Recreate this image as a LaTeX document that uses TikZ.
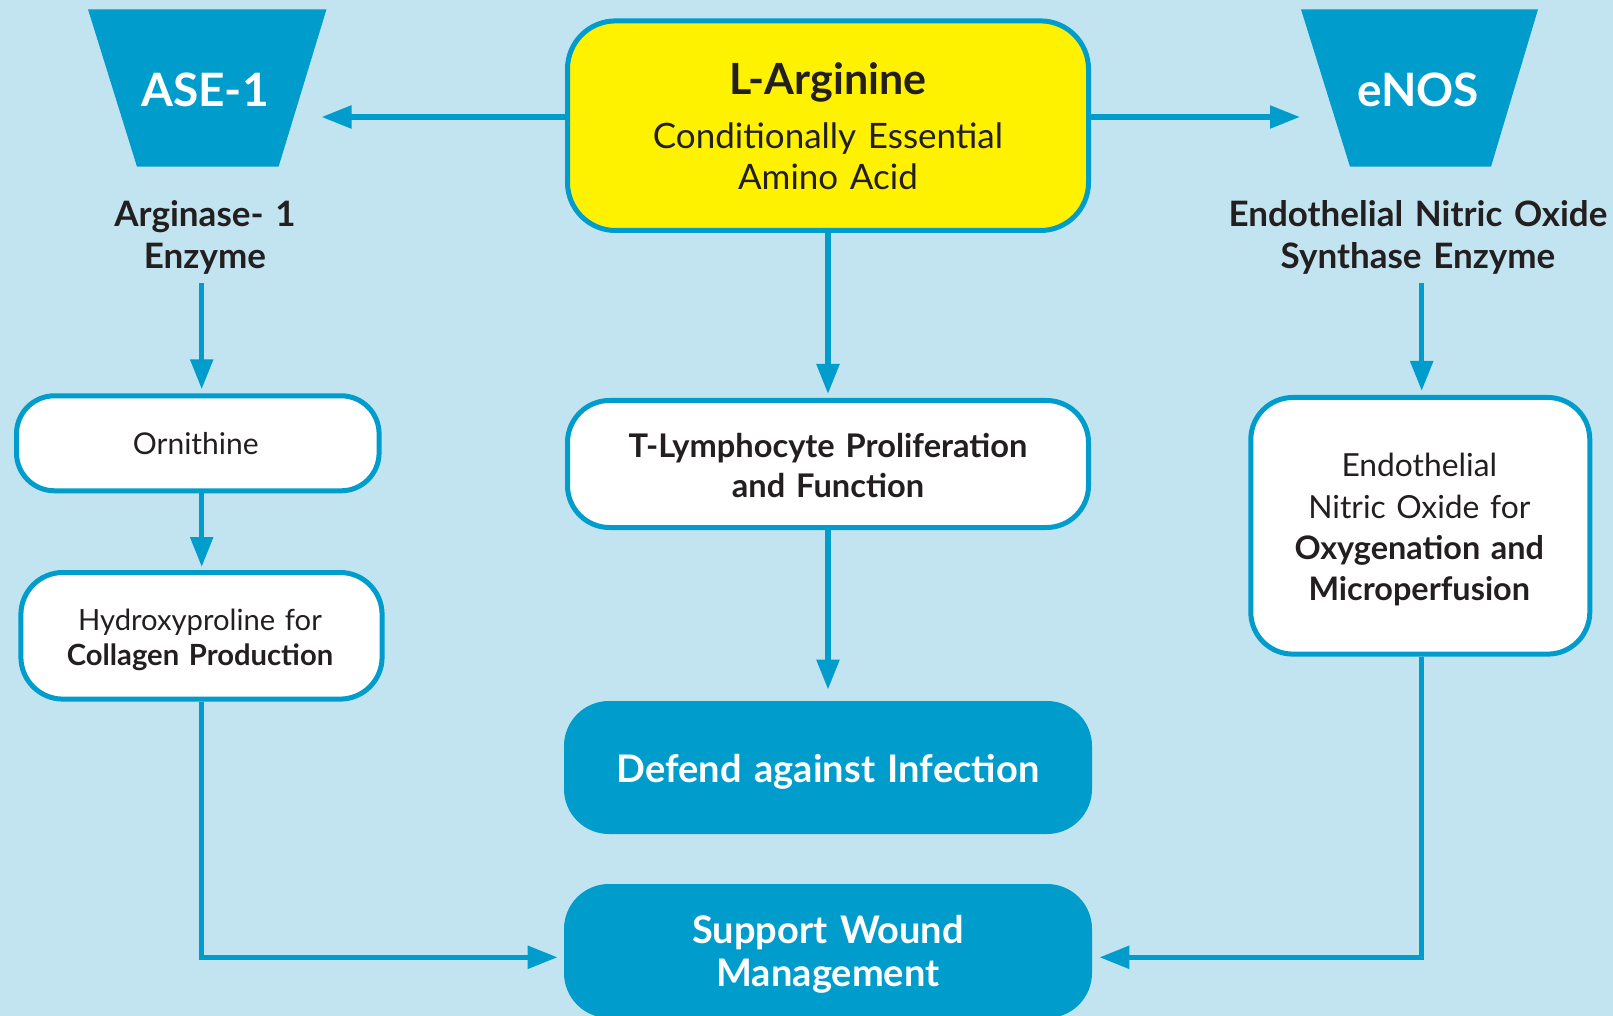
\documentclass[tikz,border=0pt]{standalone}
\usepackage{fontspec}
\setmainfont{Lato}
\usetikzlibrary{arrows.meta,calc}
\definecolor{bgblue}{RGB}{194,228,240}
\definecolor{dblue}{RGB}{0,157,204}
\definecolor{lyellow}{RGB}{255,242,0}
\definecolor{ink}{RGB}{35,31,32}
\begin{document}
\begin{tikzpicture}[x=0.5pt,y=-0.5pt,
  box/.style={draw=dblue, line width=2.5pt, rounded corners=21pt, inner sep=0pt},
  whitebox/.style={box, fill=white},
  yellowbox/.style={box, fill=lyellow, rounded corners=24pt},
  bluebox/.style={fill=dblue, rounded corners=22.5pt, inner sep=0pt},
  txt/.style={inner sep=0pt, anchor=base, text=ink, align=center, text width=330pt},
  wtxt/.style={txt, text=white},
  arr/.style={draw=dblue, line width=2.75pt, -{Triangle[length=15pt,width=11pt]}},
  trap/.style={fill=dblue},
]
% background and bounds
\fill[bgblue] (0,0) rectangle (1613,1016);
\useasboundingbox (0,0) rectangle (1613,1016);

% trapezoids
\fill[trap] (88,9.3) -- (326.5,9.3) -- (278.6,166.7) -- (137,166.7) -- cycle;
\fill[trap] (1301,9.3) -- (1538,9.3) -- (1491,166.7) -- (1350,166.7) -- cycle;
\node[wtxt, font=\bfseries\fontsize{23}{27}\selectfont] (ase) at (205,106.7) {ASE-1};
\node[wtxt, font=\bfseries\fontsize{23}{27}\selectfont] (enos) at (1418,106.7) {eNOS};

% enzyme captions
\node[txt, font=\bfseries\fontsize{17.5}{20.85}\selectfont] (argT) at (205,226.7) {Arginase- 1\\Enzyme};
\node[txt, font=\bfseries\fontsize{17.5}{20.85}\selectfont] (enosT) at (1418,226.7) {Endothelial Nitric Oxide\\Synthase Enzyme};

% boxes
\node[yellowbox, minimum width=260.5pt, minimum height=104.8pt] (yel) at (828,125.7) {};
\node[whitebox, minimum width=181.3pt, minimum height=47.5pt, rounded corners=19pt] (orn) at (197.8,443.3) {};
\node[whitebox, minimum width=180.6pt, minimum height=63.3pt] (hydro) at (201.5,635.8) {};
\node[whitebox, minimum width=260.5pt, minimum height=63.5pt] (tlym) at (828,464) {};
\node[bluebox, minimum width=264pt, minimum height=66.5pt] (def) at (828,767.5) {};
\node[bluebox, minimum width=264pt, minimum height=67pt] (sup) at (828,951) {};
\node[whitebox, minimum width=169.5pt, minimum height=128.3pt] (endo) at (1420.3,525.8) {};

% box texts
\node[txt, font=\bfseries\fontsize{21.5}{26}\selectfont] (yelT1) at (828,95) {L-Arginine};
\node[txt, font=\fontsize{17.5}{20.8}\selectfont] (yelT2) at (828,148.3) {Conditionally Essential\\Amino Acid};
\node[txt, font=\fontsize{15}{18}\selectfont] (ornT) at (195.8,454.3) {Ornithine};
\node[txt, font=\fontsize{14.6}{17.15}\selectfont] (hydroT) at (200,630.7) {Hydroxyproline for\\\textbf{Collagen Production}};
\node[txt, font=\bfseries\fontsize{16.3}{20}\selectfont] (tlymT) at (828,457.3) {T-Lymphocyte Proliferation\\and Function};
\node[wtxt, font=\bfseries\fontsize{19}{22}\selectfont] (defT) at (828,782.7) {Defend against Infection};
\node[wtxt, font=\bfseries\fontsize{19}{21.7}\selectfont] (supT) at (828,943.3) {Support Wound\\Management};
\node[txt, font=\fontsize{15.9}{20.7}\selectfont] (endoT) at (1419.3,476.7) {Endothelial\\Nitric Oxide for\\{\bfseries\fontsize{16.2}{20.7}\selectfont Oxygenation and}\\{\bfseries\fontsize{16.2}{20.7}\selectfont Microperfusion}};

% helper coordinates
\coordinate (aseIn) at (321.5,117);
\coordinate (enosIn) at (1300,117);
\coordinate (argOut) at (201.7,283.3);
\coordinate (enosOut) at (1421.7,283.3);
\coordinate (joinY) at (0,957.3);

% connectors
\draw[arr] (yel.west |- aseIn) -- (aseIn);
\draw[arr] (yel.east |- enosIn) -- (enosIn);
\draw[arr, shorten >=2pt] (yel.south) -- (tlym.north);
\draw[arr, shorten >=5.5pt] (tlym.south) -- (def.north);
\draw[arr, shorten >=2pt] (argOut) -- (argOut |- orn.north);
\draw[arr, shorten >=1.5pt] (argOut |- orn.south) -- (argOut |- hydro.north);
\draw[arr, shorten >=2pt] (enosOut) -- (enosOut |- endo.north);
\draw[arr, shorten >=3pt] (hydro.south) |- (sup.west |- joinY);
\draw[arr, shorten >=3.5pt] (enosOut |- endo.south) |- (sup.east |- joinY);
\end{tikzpicture}
\end{document}
